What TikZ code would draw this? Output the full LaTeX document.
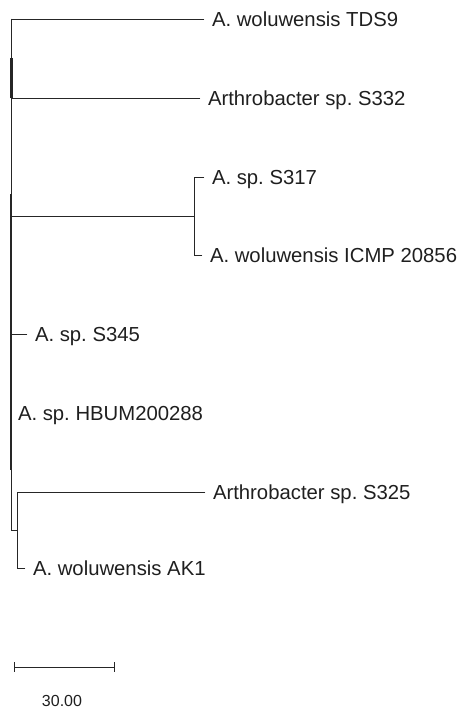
\documentclass[tikz,border=0pt]{standalone}
\usepackage{fontspec}
\setmainfont{Liberation Sans}
\frenchspacing
\begin{document}
\begin{tikzpicture}[x=1pt,y=-1pt,
  br/.style={draw=black!85,line width=0.9pt,line cap=rect},
  thk/.style={draw=black!85,line width=2.2pt},
  leaf/.style={anchor=west,inner xsep=8pt,inner ysep=0pt,outer sep=0pt,text height=14.3pt,text depth=0pt,font=\frenchspacing\fontsize{20.3}{24}\selectfont,text=black!88},
  sclabel/.style={inner sep=0pt,font=\fontsize{16}{19}\selectfont,text=black!88}]
\useasboundingbox (0,0) rectangle (460,709);
% leaves
\node[leaf] (tds9) at (204,19) {A. woluwensis TDS9};
\node[leaf] (s332) at (200,98) {Arthrobacter sp. S332};
\node[leaf] (s317) at (204,177) {A. sp. S317};
\node[leaf] (icmp) at (202,255) {A. woluwensis ICMP 20856};
\node[leaf] (s345) at (27,334) {A. sp. S345};
\node[leaf] (hbum) at (10,413) {A. sp. HBUM200288};
\node[leaf] (s325) at (205,492) {Arthrobacter sp. S325};
\node[leaf] (ak1) at (25,568) {A. woluwensis AK1};
% internal nodes
\coordinate (top) at (11.5,19);
\coordinate (n1) at (11.5,98);
\coordinate (n2) at (194,216);
\coordinate (r2) at (11.5,216);
\coordinate (r3) at (11.5,334);
\coordinate (r5) at (11.5,530);
\coordinate (n5) at (17.5,530);
% root vertical
\draw[br] (top) -- (r5);
\draw[thk] (11.5,58) -- (n1);
\draw[thk] (11.2,194) -- (11.2,470);
% branches
\draw[br] (top) -- (tds9.west);
\draw[br] (n1) -- (s332.west);
\draw[br] (r2) -- (n2);
\draw[br] (n2) |- (s317.west);
\draw[br] (n2) |- (icmp.west);
\draw[br] (r3) -- (s345.west);
\draw[br] (r5) -- (n5);
\draw[br] (n5) |- (s325.west);
\draw[br] (n5) |- (ak1.west);
% scale bar
\coordinate (sa) at (14,667);
\coordinate (sb) at (114,667);
\draw[br] (sa) -- (sb);
\draw[br] ([yshift=-4.5pt]sa) -- ([yshift=4.5pt]sa);
\draw[br] ([yshift=-4.5pt]sb) -- ([yshift=4.5pt]sb);
\node[sclabel] (sl) at (62,701) {30.00};
\end{tikzpicture}
\end{document}
